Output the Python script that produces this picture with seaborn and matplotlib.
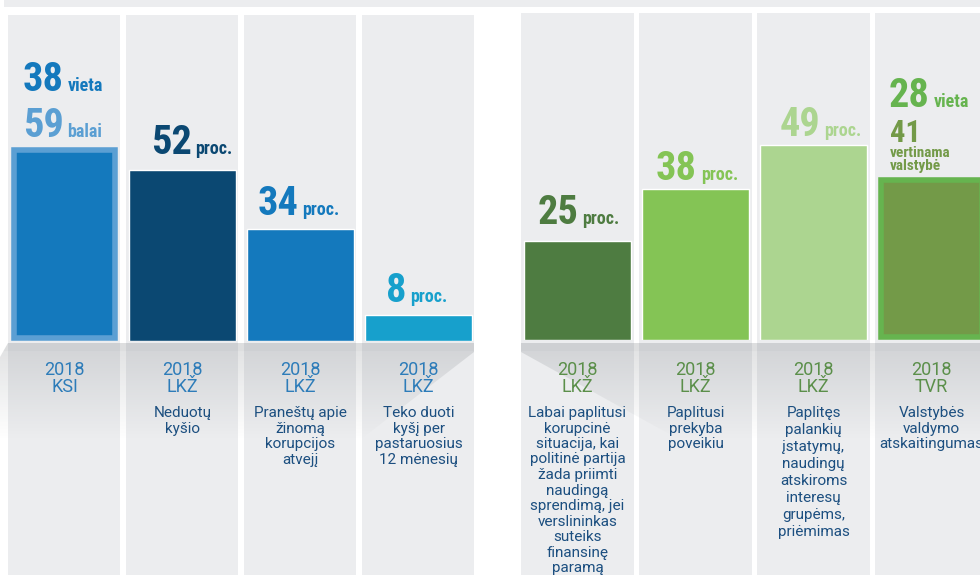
import numpy as np
import pandas as pd
import matplotlib
matplotlib.use("Agg")
import matplotlib.pyplot as plt
import seaborn as sns
from matplotlib import font_manager
from matplotlib.patches import Rectangle, Polygon

# ------------------------------------------------------------------
# Duomenys
# ------------------------------------------------------------------
YEAR = 2018

left_sources = ["KSI", "LKŽ", "LKŽ", "LKŽ"]
left_values = [59, 52, 34, 8]
left_units = ["balai", "proc.", "proc.", "proc."]
left_rank = 38
left_desc = [
    [],
    ["Neduotų", "kyšio"],
    ["Praneštų apie", "žinomą", "korupcijos", "atvejį"],
    ["Teko duoti", "kyšį per", "pastaruosius", "12 mėnesių"],
]

right_sources = ["LKŽ", "LKŽ", "LKŽ", "TVR"]
right_values = [25, 38, 49, 41]
right_units = ["proc.", "proc.", "proc.", "vertinama\nvalstybė"]
right_rank = 28
right_desc = [
    ["Labai paplitusi", "korupcinė", "situacija, kai", "politinė partija",
     "žada priimti", "naudingą", "sprendimą, jei", "verslininkas",
     "suteiks", "finansinę", "paramą"],
    ["Paplitusi", "prekyba", "poveikiu"],
    ["Paplitęs", "palankių", "įstatymų,", "naudingų", "atskiroms",
     "interesų", "grupėms,", "priėmimas"],
    ["Valstybės", "valdymo", "atskaitingumas"],
]

# ------------------------------------------------------------------
# Stilius
# ------------------------------------------------------------------
left_colors = ["#1479bd", "#0b4872", "#1479bd", "#17a0cc"]
left_text_colors = ["#5b9fd3", "#0b4872", "#1479bd", "#17a0cc"]
right_colors = ["#4e7c41", "#84c455", "#acd590", "#739a48"]
right_text_colors = ["#4e7c41", "#84c455", "#acd590", "#739a48"]
PANEL = "#ecedef"
DESC = "#1c4f80"

names = {f.name for f in font_manager.fontManager.ttflist}
NARROW = next((n for n in ["Roboto Condensed", "Liberation Sans Narrow"] if n in names), "DejaVu Sans")
REG = "Roboto" if "Roboto" in names else "DejaVu Sans"

W, H = 980, 575
BASE = 341  # bazinė linija pikseliais


def main():
    sns.set_theme(style="white")
    plt.rcParams["font.family"] = [REG, "DejaVu Sans"]

    fig = plt.figure(figsize=(W / 100, H / 100), dpi=100)
    fig.patch.set_facecolor("white")

    # fono ašys pikseliais
    bg = fig.add_axes([0, 0, 1, 1], zorder=0)
    bg.set_xlim(0, W)
    bg.set_ylim(H, 0)
    bg.set_axis_off()

    bg.add_patch(Rectangle((4, 0), W - 4, 7, color=PANEL, lw=0))
    for i in range(4):
        bg.add_patch(Rectangle((8 + i * 118, 15), 112, H - 15, color=PANEL, lw=0))
        bg.add_patch(Rectangle((521 + i * 118, 13), 113, H - 13, color=PANEL, lw=0))

    # šešėlis po stulpeliais
    rows = 97
    alpha = np.where(np.arange(rows) < 8, 0.24, np.linspace(0.22, 0.0, rows))
    grad = np.zeros((rows, 2, 4))
    grad[..., 0], grad[..., 1], grad[..., 2] = 0.45, 0.47, 0.49
    grad[..., 3] = alpha[:, None]
    polys = [
        [(0, 357), (8, 343), (474, 343), (474, 352), (360, 440), (0, 440)],
        [(521, 343), (W, 343), (W, 440), (680, 440), (521, 352)],
    ]
    for pts in polys:
        im = bg.imshow(grad, extent=(0, W, 440, 343), origin="upper", zorder=2,
                       interpolation="bilinear")
        clip = Polygon(pts, closed=True, transform=bg.transData, fc="none", ec="none")
        im.set_clip_path(clip)
    bg.set_aspect("auto")
    bg.set_xlim(0, W)
    bg.set_ylim(H, 0)

    # stulpelių ašys
    scale_l, scale_r = 3.29, 3.98
    ax_l = fig.add_axes([5.5 / W, (H - BASE) / H, 472 / W, (BASE - 15) / H], zorder=1)
    ax_r = fig.add_axes([518.5 / W, (H - BASE + 1) / H, 472 / W, (BASE - 16) / H], zorder=1)

    groups = [
        (ax_l, left_values, left_colors, (BASE - 15) / scale_l),
        (ax_r, right_values, right_colors, (BASE - 16) / scale_r),
    ]
    for ax, vals, cols, top in groups:
        df = pd.DataFrame({"key": [str(i) for i in range(4)], "value": vals})
        sns.barplot(data=df, x="key", y="value", hue="key",
                    palette=dict(zip(df["key"], cols)), legend=False,
                    width=0.9, saturation=1, ax=ax)
        ax.set_xlim(-0.5, 3.5)
        ax.set_ylim(0, top)
        ax.set_axis_off()
        ax.patch.set_visible(False)

    def bar_for(ax, idx):
        return min(ax.patches, key=lambda p: abs(p.get_x() + p.get_width() / 2 - idx))

    # rėmelis lieka stulpelio viduje
    lw = 4
    half_px = lw * 100 / 72 / 2
    for ax, idx, ec, scale in [(ax_l, 0, "#5b9fd3", scale_l), (ax_r, 3, "#66b44f", scale_r)]:
        b = bar_for(ax, idx)
        dx, dy = half_px / 118, half_px / scale
        b.set_x(b.get_x() + dx)
        b.set_width(b.get_width() - 2 * dx)
        b.set_y(dy)
        b.set_height(b.get_height() - 2 * dy)
        b.set_edgecolor(ec)
        b.set_linewidth(lw)

    def to_px(ax, x, y):
        return bg.transData.inverted().transform(ax.transData.transform((x, y)))

    def big_label(xs, yb, num, unit, color, size=29, usize=13):
        bg.text(xs, yb, num, ha="right", va="baseline", fontsize=size,
                fontweight="bold", color=color, family=NARROW, zorder=5)
        bg.text(xs + 4, yb, unit, ha="left", va="baseline", fontsize=usize,
                fontweight="bold", color=color, family=NARROW, zorder=5)

    # reikšmių užrašai
    l_shift = [-1, 9, -2, -12]
    l_gap = [10, 16, 14, 13]
    for i, v in enumerate(left_values):
        cx, ty = to_px(ax_l, i, v)
        big_label(cx + l_shift[i], ty - l_gap[i], str(v), left_units[i], left_text_colors[i])
        if i == 0:
            big_label(cx + l_shift[i], ty - l_gap[i] - 46, str(left_rank), "vieta", left_colors[0])

    r_shift = [1, 1.5, 6.5, 0]
    r_gap = [16, 9, 9, 35]
    for i, v in enumerate(right_values):
        cx, ty = to_px(ax_r, i, v)
        if i < 3:
            big_label(cx + r_shift[i], ty - r_gap[i], str(v), right_units[i], right_text_colors[i])
        else:
            x0 = cx - 42
            bg.text(x0, ty - r_gap[i], str(v), ha="left", va="baseline", fontsize=22,
                    fontweight="bold", color=right_text_colors[i], family=NARROW, zorder=5)
            for k, line in enumerate(right_units[i].split("\n")):
                bg.text(x0, ty - 20 + k * 13, line, ha="left", va="baseline", fontsize=11,
                        fontweight="bold", color=right_text_colors[i], family=NARROW,
                        zorder=5)
            big_label(x0 + 40, ty - r_gap[i] - 35, str(right_rank), "vieta", "#66b44f")

    # metai, šaltiniai, aprašymai
    left_step = [15.6, 15.6, 15.6, 15.6]
    right_step = [15.5, 15.6, 17.0, 15.6]
    for ax, sources, descs, steps, ycol in [
            (ax_l, left_sources, left_desc, left_step, "#2d7cb9"),
            (ax_r, right_sources, right_desc, right_step, "#5b8f4a")]:
        for i in range(4):
            cx, _ = to_px(ax, i, 0)
            bg.text(cx, 370, str(YEAR), ha="center", va="center", fontsize=13,
                    color=ycol, zorder=5)
            bg.text(cx, 387, sources[i], ha="center", va="center", fontsize=13,
                    color=ycol, zorder=5)
            for k, line in enumerate(descs[i]):
                bg.text(cx, 413 + k * steps[i], line, ha="center", va="center",
                        fontsize=11, color=DESC, zorder=5)

    fig.savefig("out.png", dpi=100)
    plt.close(fig)


if __name__ == "__main__":
    main()
